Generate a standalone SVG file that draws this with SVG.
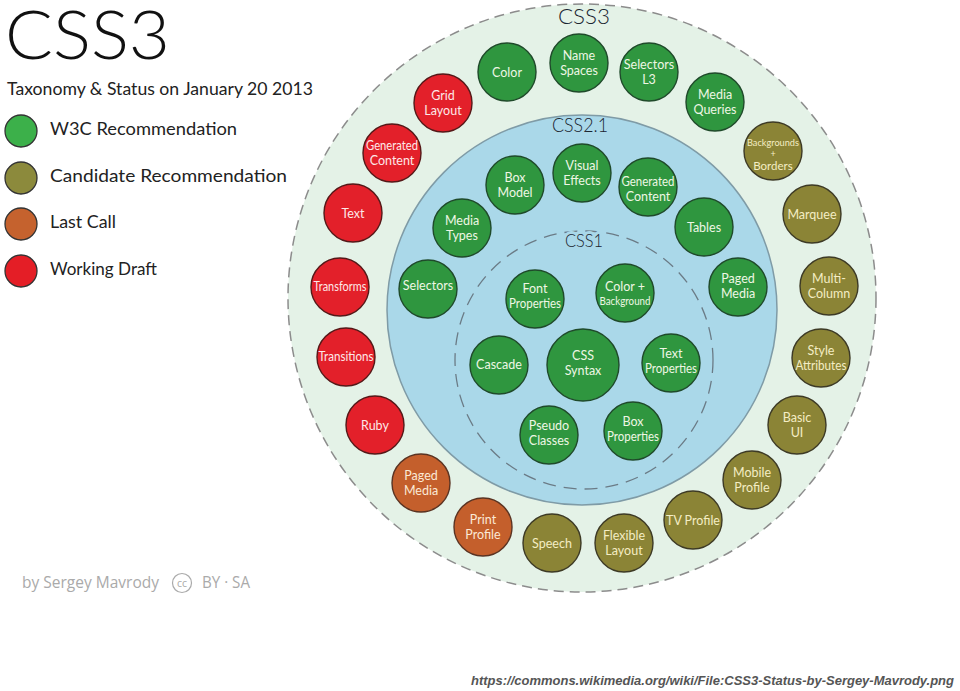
<svg xmlns="http://www.w3.org/2000/svg" width="960" height="691" viewBox="0 0 960 691">
<style>
.bg{fill:#ffffff}
.ring3{fill:#e4f2e7;stroke:#8c8c8c;stroke-width:1.5;stroke-dasharray:10 6}
.ring2{fill:#aad8e9;stroke:#7f9ba6;stroke-width:1.5}
.ring1{fill:none;stroke:#6b7b86;stroke-width:1.3;stroke-dasharray:13 8}
.lbl{font-family:Lato,"Liberation Sans",sans-serif;font-weight:300;fill:#1a2530;text-anchor:middle}
.n circle{stroke-width:1.4}
.g circle{fill:#2f963f;stroke:#1f4a2a}
.o circle{fill:#8b8436;stroke:#3d3a25}
.r circle{fill:#e3202a;stroke:#551818}
.l circle{fill:#c45f2c;stroke:#5a3322}
.n text{font-family:Lato,"Open Sans","Liberation Sans",sans-serif;font-size:12.5px;text-anchor:middle}
.g text{fill:#eef6e4}
.o text{fill:#f4edc4}
.r text{fill:#fde8e8}
.l text{fill:#fbe9d6}
.leg circle{stroke:#333333;stroke-width:1.3}
.leg text{font-family:Lato,"Liberation Sans",sans-serif;font-size:17px;fill:#222222}
</style>
<rect class="bg" x="0" y="0" width="960" height="691"/>

<g id="title">
<text x="5" y="59" font-family="Lato,'Liberation Sans',sans-serif" font-weight="300" font-size="67" fill="#111111" textLength="165" lengthAdjust="spacingAndGlyphs">CSS3</text>
<text x="7" y="95" font-family="Lato,'Liberation Sans',sans-serif" font-size="17.5" fill="#222222" textLength="306" lengthAdjust="spacingAndGlyphs">Taxonomy &amp; Status on January 20 2013</text>
</g>

<g id="legend" class="leg">
<circle cx="21" cy="131" r="16" fill="#3cb04a"/>
<text x="50" y="135" textLength="187" lengthAdjust="spacingAndGlyphs">W3C Recommendation</text>
<circle cx="21" cy="178" r="16" fill="#8c8a3c"/>
<text x="50" y="182" textLength="237" lengthAdjust="spacingAndGlyphs">Candidate Recommendation</text>
<circle cx="21" cy="224" r="16" fill="#c5622e"/>
<text x="50" y="228" textLength="66" lengthAdjust="spacingAndGlyphs">Last Call</text>
<circle cx="21" cy="271" r="16" fill="#e41e26"/>
<text x="50" y="275" textLength="107" lengthAdjust="spacingAndGlyphs">Working Draft</text>
</g>

<g id="rings">
<circle class="ring3" cx="582" cy="298" r="294"/>
<circle class="ring2" cx="582" cy="310" r="195"/>
<circle class="ring1" cx="584" cy="360" r="129"/>
<text class="lbl" x="584" y="24" font-size="21" textLength="52" lengthAdjust="spacingAndGlyphs" stroke="#e4f2e7" stroke-width="6" paint-order="stroke">CSS3</text>
<text class="lbl" x="580" y="132" font-size="20" textLength="56" lengthAdjust="spacingAndGlyphs">CSS2.1</text>
<text class="lbl" x="584" y="247" font-size="17" textLength="38" lengthAdjust="spacingAndGlyphs" stroke="#aad8e9" stroke-width="6" paint-order="stroke">CSS1</text>
</g>

<!-- CSS3 ring -->
<g id="n-color" class="n g"><circle cx="507" cy="72" r="29"/><text x="507" y="76.5">Color</text></g>
<g id="n-namespaces" class="n g"><circle cx="579" cy="63" r="29"/><text x="579" y="60">Name</text><text x="579" y="75">Spaces</text></g>
<g id="n-selectors3" class="n g"><circle cx="649" cy="72" r="29"/><text x="649" y="69">Selectors</text><text x="649" y="84">L3</text></g>
<g id="n-mediaqueries" class="n g"><circle cx="715" cy="102" r="29"/><text x="715" y="99">Media</text><text x="715" y="114">Queries</text></g>
<g id="n-backgrounds" class="n o"><circle cx="773" cy="151" r="29"/><text x="773" y="146" textLength="52" lengthAdjust="spacingAndGlyphs" style="font-size:10px">Backgrounds</text><text x="773" y="157" style="font-size:9px">+</text><text x="773" y="170" style="font-size:11.5px">Borders</text></g>
<g id="n-marquee" class="n o"><circle cx="812" cy="214" r="29"/><text x="812" y="218.5">Marquee</text></g>
<g id="n-multicolumn" class="n o"><circle cx="829" cy="286" r="29"/><text x="829" y="283">Multi-</text><text x="829" y="298">Column</text></g>
<g id="n-styleattr" class="n o"><circle cx="821" cy="358" r="29"/><text x="821" y="355">Style</text><text x="821" y="370" textLength="51" lengthAdjust="spacingAndGlyphs">Attributes</text></g>
<g id="n-basicui" class="n o"><circle cx="797" cy="425" r="29"/><text x="797" y="422">Basic</text><text x="797" y="437">UI</text></g>
<g id="n-mobile" class="n o"><circle cx="752" cy="480" r="29"/><text x="752" y="477">Mobile</text><text x="752" y="492">Profile</text></g>
<g id="n-tv" class="n o"><circle cx="693" cy="520" r="29"/><text x="693" y="524.5">TV Profile</text></g>
<g id="n-flexible" class="n o"><circle cx="624" cy="543" r="29"/><text x="624" y="540">Flexible</text><text x="624" y="555">Layout</text></g>
<g id="n-speech" class="n o"><circle cx="552" cy="543" r="29"/><text x="552" y="547.5">Speech</text></g>
<g id="n-print" class="n l"><circle cx="483" cy="527" r="29"/><text x="483" y="524">Print</text><text x="483" y="539">Profile</text></g>
<g id="n-pagedmedia3" class="n l"><circle cx="421" cy="483" r="29"/><text x="421" y="480">Paged</text><text x="421" y="495">Media</text></g>
<g id="n-ruby" class="n r"><circle cx="375" cy="425" r="29"/><text x="375" y="429.5">Ruby</text></g>
<g id="n-transitions" class="n r"><circle cx="346" cy="357" r="29"/><text x="346" y="361" textLength="55" lengthAdjust="spacingAndGlyphs">Transitions</text></g>
<g id="n-transforms" class="n r"><circle cx="340" cy="287" r="29"/><text x="340" y="291" textLength="53" lengthAdjust="spacingAndGlyphs">Transforms</text></g>
<g id="n-text" class="n r"><circle cx="353" cy="213" r="29"/><text x="353" y="217.5">Text</text></g>
<g id="n-gencontent3" class="n r"><circle cx="392" cy="153" r="29"/><text x="392" y="150" textLength="52" lengthAdjust="spacingAndGlyphs">Generated</text><text x="392" y="165">Content</text></g>
<g id="n-grid" class="n r"><circle cx="443" cy="103" r="29"/><text x="443" y="100">Grid</text><text x="443" y="115">Layout</text></g>

<!-- CSS2.1 ring -->
<g id="n-boxmodel" class="n g"><circle cx="515" cy="185" r="29"/><text x="515" y="182">Box</text><text x="515" y="197">Model</text></g>
<g id="n-visual" class="n g"><circle cx="582" cy="173" r="29"/><text x="582" y="170">Visual</text><text x="582" y="185">Effects</text></g>
<g id="n-gencontent2" class="n g"><circle cx="648" cy="187" r="29"/><text x="648" y="186" textLength="53" lengthAdjust="spacingAndGlyphs">Generated</text><text x="648" y="201">Content</text></g>
<g id="n-tables" class="n g"><circle cx="704" cy="227" r="29"/><text x="704" y="231.5">Tables</text></g>
<g id="n-pagedmedia2" class="n g"><circle cx="738" cy="287" r="29"/><text x="738" y="283">Paged</text><text x="738" y="298">Media</text></g>
<g id="n-mediatypes" class="n g"><circle cx="462" cy="228" r="29"/><text x="462" y="225">Media</text><text x="462" y="240">Types</text></g>
<g id="n-selectors" class="n g"><circle cx="428" cy="289" r="29"/><text x="428" y="290">Selectors</text></g>

<!-- CSS1 -->
<g id="n-font" class="n g"><circle cx="535" cy="299" r="29"/><text x="535" y="293">Font</text><text x="535" y="308" textLength="52" lengthAdjust="spacingAndGlyphs">Properties</text></g>
<g id="n-colorbg" class="n g"><circle cx="625" cy="293" r="29"/><text x="625" y="291">Color +</text><text x="625" y="304.5" textLength="51" lengthAdjust="spacingAndGlyphs" style="font-size:10.5px">Background</text></g>
<g id="n-cascade" class="n g"><circle cx="499" cy="365" r="29"/><text x="499" y="369">Cascade</text></g>
<g id="n-syntax" class="n g"><circle cx="583" cy="365" r="36"/><text x="583" y="360">CSS</text><text x="583" y="375">Syntax</text></g>
<g id="n-textprops" class="n g"><circle cx="671" cy="363" r="29"/><text x="671" y="358">Text</text><text x="671" y="373" textLength="52" lengthAdjust="spacingAndGlyphs">Properties</text></g>
<g id="n-pseudo" class="n g"><circle cx="549" cy="435" r="29"/><text x="549" y="430">Pseudo</text><text x="549" y="445">Classes</text></g>
<g id="n-boxprops" class="n g"><circle cx="633" cy="431" r="29"/><text x="633" y="426">Box</text><text x="633" y="441" textLength="52" lengthAdjust="spacingAndGlyphs">Properties</text></g>

<g id="credit" font-family="'Open Sans',Lato,'Liberation Sans',sans-serif" fill="#aaaaaa">
<text x="22" y="588" font-size="17" textLength="137" lengthAdjust="spacingAndGlyphs">by Sergey Mavrody</text>
<circle cx="182" cy="583" r="9.5" fill="none" stroke="#aaaaaa" stroke-width="1.2"/>
<text x="182" y="587" font-size="10.5" text-anchor="middle">cc</text>
<text x="202" y="588" font-size="17" textLength="48" lengthAdjust="spacingAndGlyphs">BY · SA</text>
</g>

<g id="source">
<text x="954" y="685" text-anchor="end" font-family="'Liberation Sans',Arial,sans-serif" font-size="13" font-weight="bold" font-style="italic" fill="#555555" textLength="483" lengthAdjust="spacingAndGlyphs">https://commons.wikimedia.org/wiki/File:CSS3-Status-by-Sergey-Mavrody.png</text>
</g>
</svg>
